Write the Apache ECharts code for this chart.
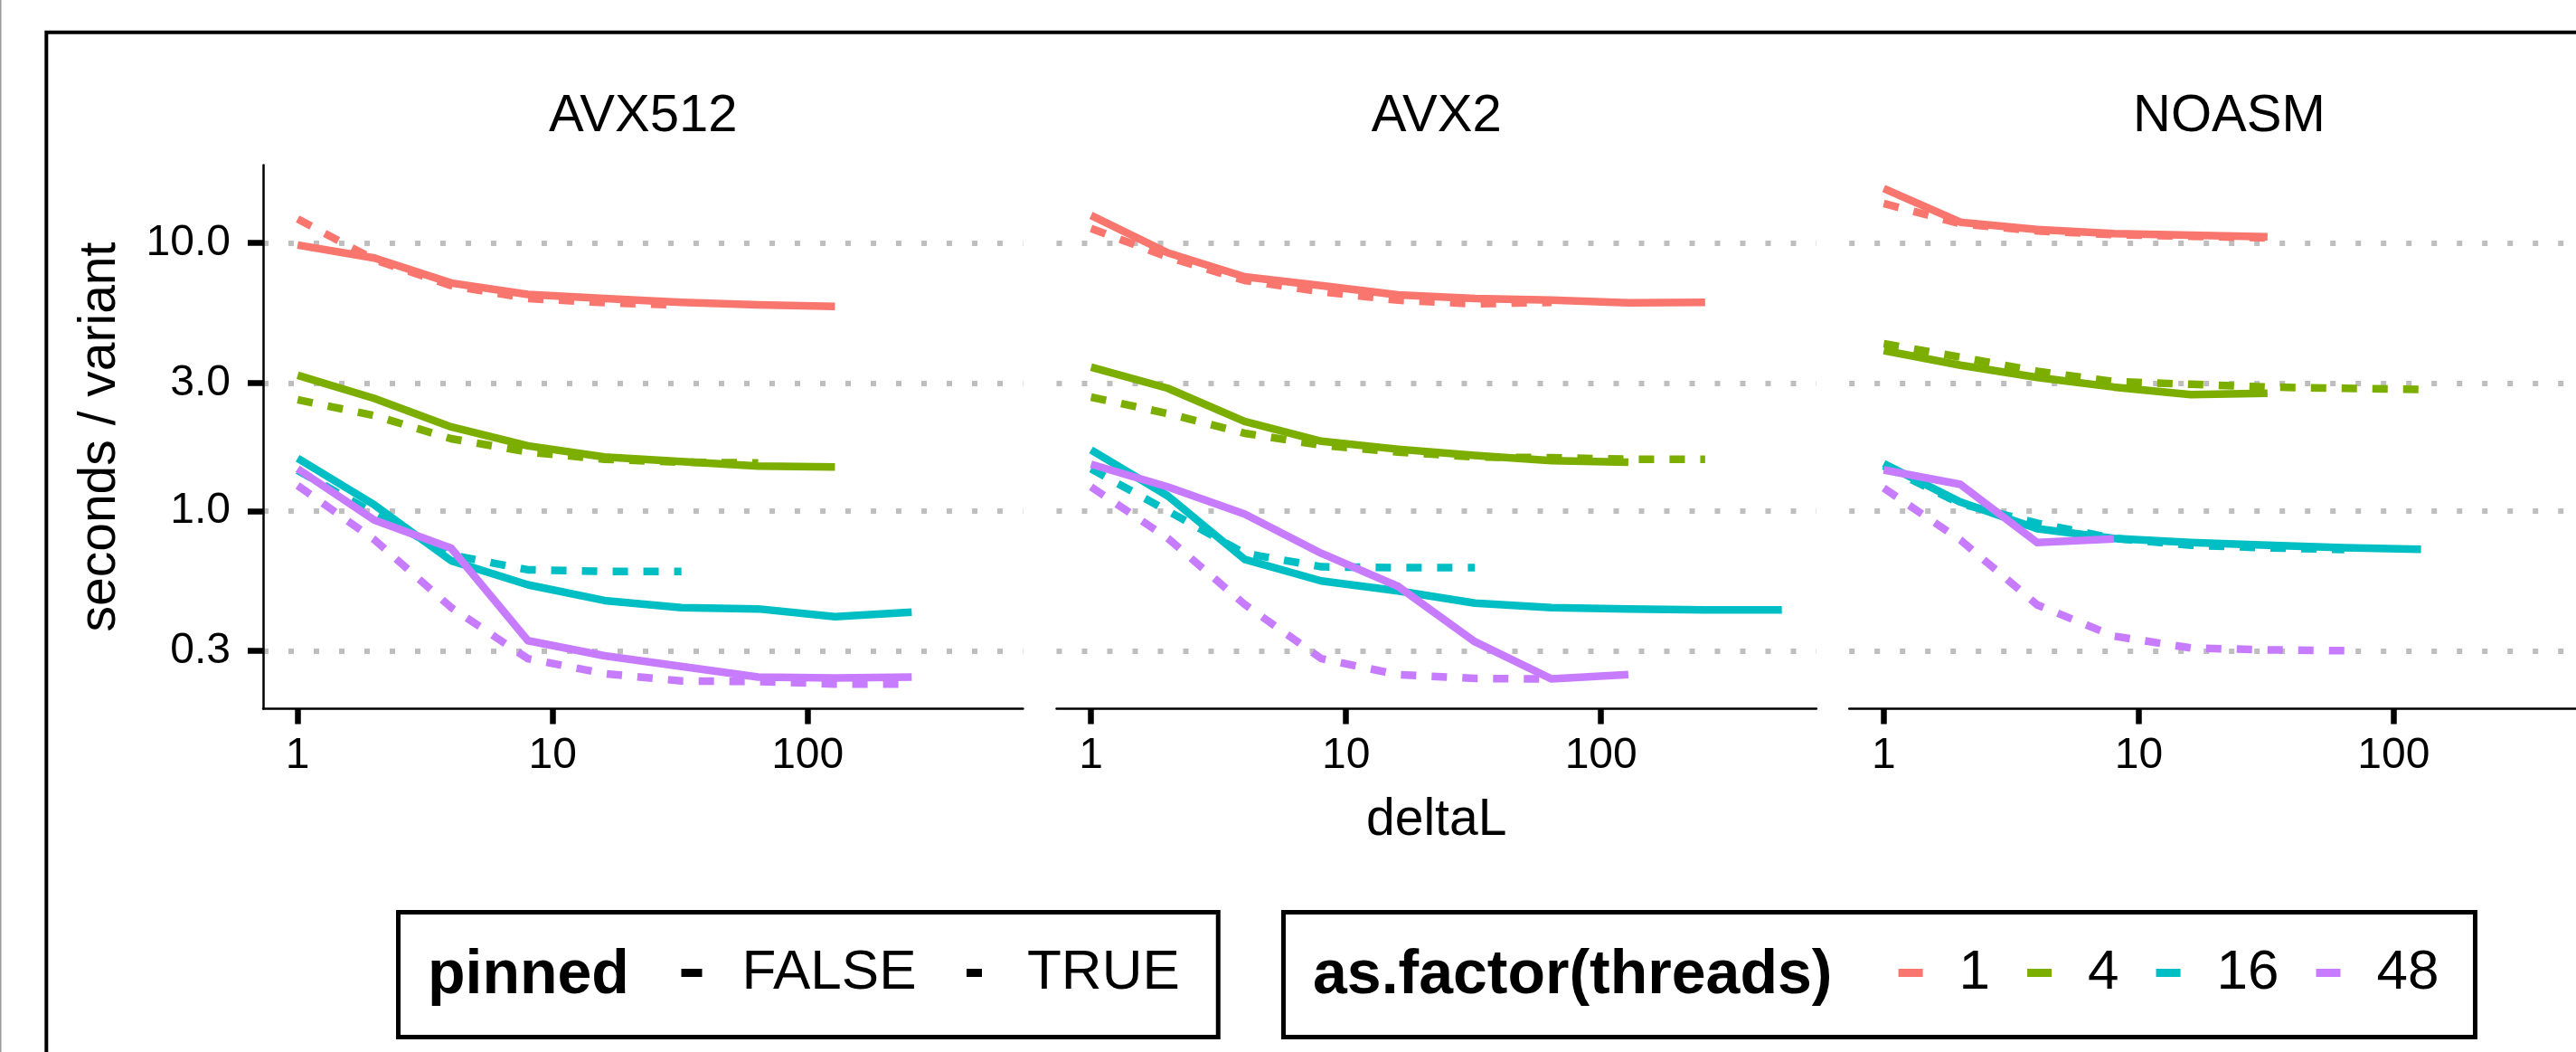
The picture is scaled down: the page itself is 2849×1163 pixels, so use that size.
<!DOCTYPE html>
<html>
<head>
<meta charset="utf-8">
<script src="https://cdn.jsdelivr.net/npm/echarts@6/dist/echarts.min.js"></script>
<style>
html,body{margin:0;padding:0;background:#fff;}
#chart{width:2849px;height:1163px;}
</style>
</head>
<body>
<div id="chart"></div>
<script>
// ---------------- data ----------------
const deltaL = [1, 2, 4, 8, 16, 32, 64, 128, 256, 512];
const panels = ['AVX512', 'AVX2', 'NOASM'];
const threads = ['1', '4', '16', '48'];
const pinnedLevels = ['FALSE', 'TRUE'];
const xTickValues = [1, 10, 100];
const yTickValues = [0.3, 1, 3, 10];

// seconds / variant, one value per deltaL (from deltaL = 1 upward)
const avx512_t1_false  = [9.83, 8.79, 7.09, 6.43, 6.21, 6.01, 5.88, 5.80];
const avx512_t1_true   = [12.3, 8.67, 6.94, 6.21, 5.99, 5.86];
const avx512_t4_false  = [3.21, 2.63, 2.06, 1.75, 1.59, 1.53, 1.47, 1.46];
const avx512_t4_true   = [2.60, 2.27, 1.86, 1.66, 1.56, 1.52, 1.51];
const avx512_t16_false = [1.573, 1.053, 0.652, 0.530, 0.463, 0.436, 0.431, 0.403, 0.419];
const avx512_t16_true  = [1.418, 0.98, 0.686, 0.603, 0.595, 0.595];
const avx512_t48_false = [1.436, 0.924, 0.726, 0.328, 0.288, 0.263, 0.240, 0.238, 0.240];
const avx512_t48_true  = [1.245, 0.781, 0.436, 0.281, 0.247, 0.232, 0.231, 0.226, 0.226];

const avx2_t1_false  = [12.68, 9.19, 7.48, 6.94, 6.40, 6.21, 6.12, 5.98, 6.01];
const avx2_t1_true   = [11.33, 8.87, 7.25, 6.58, 6.12, 5.93, 6.01];
const avx2_t4_false  = [3.44, 2.87, 2.16, 1.82, 1.70, 1.61, 1.54, 1.52];
const avx2_t4_true   = [2.66, 2.31, 1.95, 1.76, 1.66, 1.59, 1.58, 1.56, 1.56];
const avx2_t16_false = [1.691, 1.138, 0.660, 0.548, 0.503, 0.453, 0.436, 0.431, 0.427, 0.427];
const avx2_t16_true  = [1.436, 1.0, 0.695, 0.619, 0.614, 0.614];
const avx2_t48_false = [1.494, 1.23, 0.974, 0.695, 0.523, 0.325, 0.236, 0.245];
const avx2_t48_true  = [1.23, 0.791, 0.448, 0.281, 0.245, 0.237, 0.236];

const noasm_t1_false  = [15.98, 11.96, 11.23, 10.84, 10.70, 10.55];
const noasm_t1_true   = [14.05, 11.8, 11.1, 10.75, 10.6, 10.45];
const noasm_t4_false  = [3.97, 3.50, 3.15, 2.90, 2.72, 2.75];
const noasm_t4_true   = [4.21, 3.75, 3.32, 3.04, 2.97, 2.90, 2.87, 2.84];
const noasm_t16_false = [1.502, 1.079, 0.859, 0.790, 0.762, 0.745, 0.729, 0.719];
const noasm_t16_true  = [1.47, 1.065, 0.90, 0.79, 0.745, 0.728, 0.718];
const noasm_t48_false = [1.423, 1.256, 0.762, 0.786];
const noasm_t48_true  = [1.217, 0.779, 0.446, 0.341, 0.308, 0.303, 0.301];

const table = {
  AVX512: {
    '1':  { FALSE: avx512_t1_false,  TRUE: avx512_t1_true },
    '4':  { FALSE: avx512_t4_false,  TRUE: avx512_t4_true },
    '16': { FALSE: avx512_t16_false, TRUE: avx512_t16_true },
    '48': { FALSE: avx512_t48_false, TRUE: avx512_t48_true }
  },
  AVX2: {
    '1':  { FALSE: avx2_t1_false,  TRUE: avx2_t1_true },
    '4':  { FALSE: avx2_t4_false,  TRUE: avx2_t4_true },
    '16': { FALSE: avx2_t16_false, TRUE: avx2_t16_true },
    '48': { FALSE: avx2_t48_false, TRUE: avx2_t48_true }
  },
  NOASM: {
    '1':  { FALSE: noasm_t1_false,  TRUE: noasm_t1_true },
    '4':  { FALSE: noasm_t4_false,  TRUE: noasm_t4_true },
    '16': { FALSE: noasm_t16_false, TRUE: noasm_t16_true },
    '48': { FALSE: noasm_t48_false, TRUE: noasm_t48_true }
  }
};

// ---------------- styles / layout ----------------
const FONT = "'Liberation Sans', Arial, Helvetica, sans-serif";
const threadColors = ['#F8766D', '#7CAE00', '#00BFC4', '#C77CFF'];
const dashPattern = [17, 17];
const LINE_W = 8.5;
const PANEL_LEFT = [291, 1168.5, 2045.2];
const PANEL_W = 840.4;
const PANEL_TOP = 182.5;
const PANEL_H = 601.1;
const X_MIN = 0.7322, X_MAX = 699.3;
const Y_MIN = 0.1826, Y_MAX = 19.54;

const grids = [], xAxes = [], yAxes = [], titles = [], series = [];

panels.forEach((p, pi) => {
  grids.push({
    left: PANEL_LEFT[pi], top: PANEL_TOP, width: PANEL_W, height: PANEL_H,
    containLabel: false, outerBoundsMode: 'none', show: false
  });
  xAxes.push({
    type: 'log', logBase: 10, gridIndex: pi, min: X_MIN, max: X_MAX,
    name: pi === 1 ? 'deltaL' : '',
    nameLocation: 'middle', nameGap: 95,
    nameTextStyle: { fontSize: 57, color: '#000', fontFamily: FONT },
    axisLine: { show: true, onZero: false, lineStyle: { color: '#000', width: 2.5 } },
    axisTick: { show: true, customValues: xTickValues, length: 17, lineStyle: { color: '#000', width: 6.5 } },
    axisLabel: { show: true, customValues: xTickValues, margin: 28, fontSize: 48, color: '#000',
                 fontFamily: FONT, formatter: v => String(Math.round(v)) },
    splitLine: { show: false }, minorTick: { show: false }, minorSplitLine: { show: false }
  });
  yAxes.push({
    type: 'log', logBase: 10, gridIndex: pi, min: Y_MIN, max: Y_MAX,
    name: pi === 0 ? 'seconds / variant' : '',
    nameLocation: 'middle', nameGap: 151,
    nameTextStyle: { fontSize: 57, color: '#000', fontFamily: FONT },
    axisLine: { show: pi === 0, onZero: false, lineStyle: { color: '#000', width: 2.5 } },
    axisTick: { show: pi === 0, customValues: yTickValues, length: 17, lineStyle: { color: '#000', width: 6.5 } },
    axisLabel: { show: pi === 0, customValues: yTickValues, margin: 36, fontSize: 48, color: '#000',
                 fontFamily: FONT, formatter: v => Number(v).toFixed(1) },
    splitLine: { show: true, lineStyle: { color: '#BEBEBE', width: 6, type: [6, 22] } },
    minorTick: { show: false }, minorSplitLine: { show: false }
  });
  titles.push({
    text: p, left: PANEL_LEFT[pi] + PANEL_W / 2, top: 100, textAlign: 'center', padding: 0,
    textStyle: { fontSize: 58, fontWeight: 'normal', color: '#000', fontFamily: FONT }
  });
  threads.forEach((t, ti) => {
    pinnedLevels.forEach(pin => {
      const values = table[p][t][pin];
      series.push({
        type: 'line', name: t, xAxisIndex: pi, yAxisIndex: pi,
        data: values.map((v, i) => [deltaL[i], v]),
        symbol: 'none', showSymbol: false, animation: false,
        color: threadColors[ti],
        itemStyle: { color: threadColors[ti] },
        lineStyle: { color: threadColors[ti], width: LINE_W, type: pin === 'TRUE' ? dashPattern : 'solid', cap: 'butt', join: 'round' },
        emphasis: { disabled: true }
      });
    });
  });
});

// legend key series for linetype (no data)
pinnedLevels.forEach(pin => {
  series.push({
    type: 'line', name: pin, xAxisIndex: 0, yAxisIndex: 0, data: [],
    symbol: 'none', animation: false, color: '#000',
    itemStyle: { color: '#000' },
    lineStyle: { color: '#000', width: LINE_W, type: pin === 'TRUE' ? dashPattern : 'solid', cap: 'butt' }
  });
});

// legend titles
titles.push({
  text: 'pinned', left: 473, top: 1045, padding: 0,
  textStyle: { fontSize: 68, fontWeight: 'bold', color: '#000', fontFamily: FONT }
});
titles.push({
  text: 'as.factor(threads)', left: 1452, top: 1045, padding: 0,
  textStyle: { fontSize: 68, fontWeight: 'bold', color: '#000', fontFamily: FONT }
});

const legendText = { fontSize: 62, color: '#000', fontFamily: FONT };
const legendKeyLine = { width: 9, cap: 'butt' };
const legendKeyItem = { opacity: 0 };

const option = {
  backgroundColor: '#fff',
  animation: false,
  title: titles,
  grid: grids,
  xAxis: xAxes,
  yAxis: yAxes,
  series: series,
  legend: [
    {
      data: pinnedLevels,
      orient: 'horizontal', left: 440.5, top: 1008.5,
      padding: [36, 42.5, 40, 308.5],
      itemWidth: 23, itemHeight: 9, itemGap: 51,
      borderColor: '#000', borderWidth: 5, borderRadius: 0,
      lineStyle: legendKeyLine, itemStyle: legendKeyItem,
      textStyle: Object.assign({ padding: [0, 0, 0, 39] }, legendText)
    },
    {
      data: threads,
      orient: 'horizontal', left: 1419.5, top: 1008.5,
      padding: [36, 40, 40, 675.6],
      itemWidth: 27, itemHeight: 9, itemGap: 36.5,
      borderColor: '#000', borderWidth: 5, borderRadius: 0,
      lineStyle: legendKeyLine, itemStyle: legendKeyItem,
      textStyle: Object.assign({ padding: [0, 0, 0, 35] }, legendText)
    }
  ],
  graphic: [
    { type: 'rect', silent: true, z: -10,
      shape: { x: 51.3, y: 35.8, width: 3200, height: 1600 },
      style: { fill: 'none', stroke: '#000', lineWidth: 4 } },
    { type: 'rect', silent: true, z: -10,
      shape: { x: 0, y: 0, width: 1.5, height: 1163 },
      style: { fill: '#9a9a9a' } }
  ]
};

const chart = echarts.init(document.getElementById('chart'), null, { renderer: 'canvas' });
chart.setOption(option);
</script>
</body>
</html>
